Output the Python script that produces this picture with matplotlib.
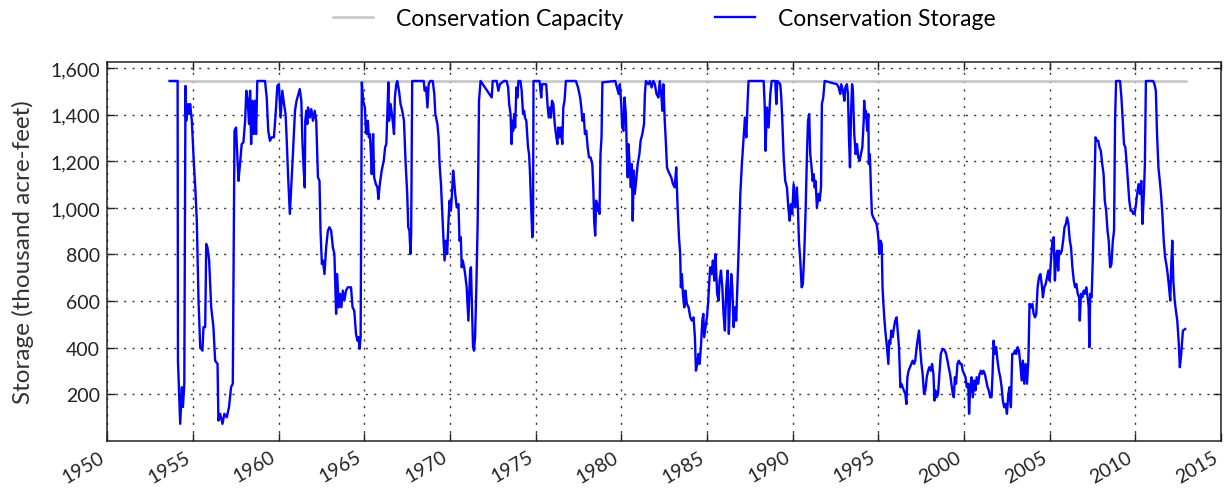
import matplotlib
matplotlib.use("Agg")
import matplotlib.pyplot as plt
from matplotlib.ticker import FuncFormatter

plt.rcParams["font.family"] = ["Lato", "DejaVu Sans"]

CAPACITY = 1545
capacity_years = [1953.64, 2012.96]

# conservation storage (thousand acre-feet)
storage_years = [
    1953.64, 1954.11, 1954.13, 1954.26, 1954.36, 1954.42, 1954.50, 1954.57, 1954.61, 1954.71,
    1954.79, 1954.84, 1954.94, 1955.06, 1955.14, 1955.23, 1955.33, 1955.43, 1955.56, 1955.62,
    1955.72, 1955.78, 1955.85, 1955.95, 1956.07, 1956.20, 1956.30, 1956.44, 1956.49, 1956.59,
    1956.73, 1956.84, 1956.98, 1957.11, 1957.23, 1957.33, 1957.43, 1957.52, 1957.66, 1957.75,
    1957.85, 1957.95, 1958.05, 1958.12, 1958.20, 1958.28, 1958.34, 1958.40, 1958.47, 1958.55,
    1958.63, 1958.69, 1958.76, 1959.21, 1959.31, 1959.40, 1959.50, 1959.60, 1959.73, 1959.83,
    1959.93, 1960.02, 1960.12, 1960.22, 1960.32, 1960.41, 1960.47, 1960.57, 1960.66, 1960.72,
    1960.82, 1960.96, 1961.05,
    1961.24, 1961.33, 1961.39, 1961.47, 1961.53, 1961.56, 1961.62, 1961.68, 1961.72, 1961.82,
    1961.91, 1962.01, 1962.11, 1962.20, 1962.30, 1962.39, 1962.45, 1962.53, 1962.59, 1962.68,
    1962.78, 1962.88, 1962.97, 1963.07, 1963.17, 1963.26, 1963.36, 1963.42, 1963.51, 1963.59,
    1963.67, 1963.75, 1963.84, 1963.94, 1964.04, 1964.23, 1964.32, 1964.42, 1964.52, 1964.61,
    1964.67, 1964.73, 1964.79, 1964.86, 1964.94, 1965.04, 1965.10, 1965.15, 1965.21, 1965.27,
    1965.33, 1965.39, 1965.44, 1965.52, 1965.58, 1965.68, 1965.77, 1965.83, 1965.91, 1966.02,
    1966.14, 1966.22, 1966.29, 1966.35, 1966.41, 1966.45, 1966.54, 1966.64, 1966.74, 1966.79,
    1966.87, 1966.93, 1967.03, 1967.12, 1967.22, 1967.32, 1967.41, 1967.51, 1967.57, 1967.64,
    1967.70, 1967.74, 1967.80, 1968.47, 1968.53, 1968.61, 1968.69, 1968.76, 1968.86, 1969.00,
    1969.09, 1969.15, 1969.27, 1969.34, 1969.40, 1969.48, 1969.54, 1969.63, 1969.69, 1969.77,
    1969.84, 1969.92, 1969.98, 1970.06, 1970.11, 1970.19, 1970.25, 1970.31, 1970.40, 1970.50,
    1970.56, 1970.64, 1970.69, 1970.75, 1970.83, 1970.89, 1970.98, 1971.08, 1971.18, 1971.23,
    1971.27, 1971.35, 1971.41, 1971.47, 1971.54, 1971.62, 1971.70, 1971.79,
    1972.44, 1972.50, 1972.73, 1972.83, 1972.92, 1973.15, 1973.31, 1973.40, 1973.46, 1973.54,
    1973.60, 1973.65, 1973.69, 1973.75, 1973.81, 1973.88, 1973.94, 1974.00, 1974.12, 1974.19,
    1974.27, 1974.33, 1974.38, 1974.46, 1974.56, 1974.62, 1974.67, 1974.75, 1974.81, 1974.85,
    1974.88, 1975.23, 1975.33, 1975.38, 1975.62, 1975.71, 1975.77, 1975.85, 1975.90, 1975.96,
    1976.04, 1976.12, 1976.19, 1976.27, 1976.33, 1976.40, 1976.48, 1976.56, 1976.62, 1976.69,
    1976.77, 1977.35, 1977.48, 1977.60, 1977.67, 1977.73, 1977.81, 1977.88, 1977.96, 1978.04,
    1978.12, 1978.21, 1978.31, 1978.37, 1978.42, 1978.48, 1978.54, 1978.60, 1978.65, 1978.73,
    1978.79, 1978.85, 1978.90, 1979.65, 1979.75, 1979.85, 1979.92, 1980.00, 1980.06, 1980.13,
    1980.19, 1980.27, 1980.33, 1980.38, 1980.42, 1980.48, 1980.56, 1980.62, 1980.67, 1980.73,
    1980.79, 1980.87, 1980.96, 1981.06, 1981.13, 1981.23, 1981.33, 1981.38, 1981.44, 1981.58,
    1981.67, 1981.77, 1981.87, 1981.96, 1982.06, 1982.17, 1982.25, 1982.35, 1982.40, 1982.46,
    1982.54, 1982.60, 1982.67, 1982.73, 1982.83, 1982.92, 1983.02, 1983.12, 1983.21,
    1983.29, 1983.37, 1983.44, 1983.48, 1983.54, 1983.60, 1983.68, 1983.74, 1983.83, 1983.93,
    1984.03, 1984.12, 1984.22, 1984.30, 1984.36, 1984.44, 1984.51, 1984.57, 1984.65, 1984.73,
    1984.79, 1984.84, 1984.92, 1985.00, 1985.08, 1985.14, 1985.19, 1985.27, 1985.35, 1985.43,
    1985.49, 1985.54, 1985.60, 1985.68, 1985.74, 1985.82, 1985.90, 1985.97, 1986.05, 1986.13,
    1986.21, 1986.28, 1986.36, 1986.42, 1986.48, 1986.56, 1986.63, 1986.71, 1986.79, 1986.87,
    1986.95, 1987.04, 1987.14, 1987.22, 1987.30, 1987.37, 1987.43, 1988.31, 1988.37, 1988.42,
    1988.50, 1988.60, 1988.70, 1988.78, 1988.99, 1989.05, 1989.11, 1989.28, 1989.34, 1989.40,
    1989.48, 1989.57, 1989.67, 1989.75, 1989.83, 1989.90, 1989.98, 1990.06, 1990.16, 1990.25,
    1990.31, 1990.37, 1990.45, 1990.53, 1990.60, 1990.68, 1990.76, 1990.84, 1990.90, 1990.97,
    1991.03, 1991.09, 1991.17, 1991.23, 1991.29, 1991.34, 1991.42, 1991.52, 1991.58, 1991.66,
    1991.71, 1991.79, 1991.87, 1992.59, 1992.69, 1992.78, 1992.84, 1992.94, 1993.02, 1993.08,
    1993.17, 1993.23, 1993.29, 1993.35, 1993.41, 1993.47, 1993.52, 1993.60, 1993.68, 1993.76,
    1993.83, 1993.91, 1993.99, 1994.07, 1994.15,
    1994.18, 1994.22, 1994.28, 1994.36, 1994.42, 1994.45, 1994.51, 1994.57, 1994.63, 1994.71,
    1994.81, 1994.90, 1994.96, 1995.02, 1995.06, 1995.14, 1995.20, 1995.25, 1995.29, 1995.35,
    1995.41, 1995.49, 1995.59, 1995.64, 1995.70, 1995.76, 1995.84, 1995.92, 1995.99, 1996.07,
    1996.13, 1996.21, 1996.29, 1996.35, 1996.42, 1996.50, 1996.58, 1996.64, 1996.70, 1996.77,
    1996.85, 1996.93, 1997.01, 1997.09, 1997.16, 1997.24, 1997.32, 1997.38, 1997.44, 1997.52,
    1997.59, 1997.67, 1997.75, 1997.83, 1997.91, 1997.98, 1998.06, 1998.14, 1998.22, 1998.28,
    1998.33, 1998.41, 1998.49, 1998.57, 1998.65, 1998.72, 1998.80, 1998.88, 1998.96, 1999.04,
    1999.11, 1999.19, 1999.27, 1999.35, 1999.41, 1999.47, 1999.54, 1999.62, 1999.70, 1999.78,
    1999.86, 1999.93, 2000.01, 2000.09, 2000.17, 2000.25, 2000.30, 2000.36, 2000.44, 2000.52,
    2000.60, 2000.67, 2000.75, 2000.83, 2000.91, 2000.99, 2001.06, 2001.14, 2001.22, 2001.30,
    2001.38, 2001.45, 2001.53, 2001.61, 2001.67, 2001.73, 2001.81, 2001.88, 2001.96, 2002.04,
    2002.12, 2002.20, 2002.27, 2002.35, 2002.43, 2002.51, 2002.59, 2002.66, 2002.74, 2002.82,
    2002.90, 2002.98, 2003.05, 2003.13, 2003.21, 2003.29, 2003.37, 2003.44, 2003.52, 2003.60,
    2003.68, 2003.76, 2003.83, 2003.91, 2003.99, 2004.07, 2004.15, 2004.22, 2004.30, 2004.38,
    2004.46, 2004.54, 2004.61, 2004.69, 2004.77, 2004.85, 2004.93, 2005.00, 2005.08, 2005.16,
    2005.24,
    2005.31, 2005.37, 2005.44, 2005.50, 2005.56, 2005.64, 2005.71, 2005.79, 2005.87, 2005.95,
    2006.02, 2006.10, 2006.18, 2006.25, 2006.33, 2006.41, 2006.49, 2006.56, 2006.64, 2006.72,
    2006.76, 2006.83, 2006.91, 2006.99, 2007.07, 2007.14, 2007.22, 2007.28, 2007.32, 2007.37,
    2007.45, 2007.53, 2007.61, 2007.68, 2007.76, 2007.84, 2007.91, 2007.99, 2008.07, 2008.15,
    2008.22, 2008.30, 2008.38, 2008.45, 2008.53, 2008.61, 2008.69, 2008.76, 2008.82, 2008.88,
    2009.11, 2009.19, 2009.27, 2009.34, 2009.42, 2009.50, 2009.57, 2009.65, 2009.73, 2009.81,
    2009.88, 2009.96, 2010.04, 2010.11, 2010.19, 2010.27, 2010.35, 2010.42, 2010.50, 2010.56,
    2010.62, 2011.04, 2011.12, 2011.20, 2011.27, 2011.35, 2011.43, 2011.50, 2011.58, 2011.66,
    2011.74, 2011.81, 2011.89, 2011.97, 2012.04, 2012.10, 2012.16, 2012.22, 2012.30, 2012.37,
    2012.45, 2012.53, 2012.60, 2012.68, 2012.78, 2012.91,
]

storage_kaf = [
    1545, 1545, 344, 73, 230, 145, 245, 1524, 1374, 1446,
    1403, 1446, 1374, 1188, 1088, 945, 602, 402, 387, 488,
    488, 845, 831, 774, 573, 488, 344, 330, 87, 116,
    73, 116, 101, 145, 230, 245, 1331, 1345, 1116, 1188,
    1274, 1281, 1374, 1503, 1460, 1360, 1503, 1274, 1460, 1317,
    1460, 1317, 1545, 1545, 1474, 1331, 1288, 1303, 1303, 1403,
    1524, 1531, 1388, 1503, 1446, 1403, 1303, 1116, 974, 1060,
    1202, 1417, 1460,
    1510, 1460, 1288, 1160, 1088, 1374, 1417, 1360, 1431, 1388,
    1424, 1374, 1417, 1374, 1131, 1117, 902, 759, 774, 716,
    831, 902, 917, 902, 831, 802, 545, 716, 573, 631,
    573, 645, 602, 645, 659, 659, 573, 559, 459, 430,
    445, 395, 445, 1539, 1460, 1431, 1331, 1317, 1374, 1303,
    1317, 1231, 1145, 1317, 1131, 1102, 1088, 1038, 1102, 1160,
    1202, 1260, 1274, 1403, 1539, 1374, 1446, 1388, 1317, 1474,
    1531, 1545, 1503, 1446, 1417, 1374, 1202, 1060, 917, 902,
    802, 888, 1545, 1545, 1503, 1517, 1431, 1531, 1545, 1545,
    1489, 1403, 1360, 1303, 1188, 1102, 1002, 859, 774, 859,
    802, 945, 1031, 988, 1045, 1160, 1116, 1060, 1002, 1016,
    859, 874, 745, 774, 745, 716, 659, 516, 731, 745,
    631, 402, 387, 445, 645, 931, 1460, 1545,
    1474, 1545, 1545, 1503, 1531, 1545, 1545, 1517, 1446, 1403,
    1274, 1374, 1331, 1403, 1345, 1517, 1474, 1545, 1545, 1503,
    1403, 1417, 1388, 1374, 1260, 1231, 1160, 988, 874, 902,
    1545, 1545, 1474, 1531, 1531, 1431, 1388, 1431, 1388, 1460,
    1446, 1360, 1317, 1274, 1345, 1303, 1345, 1274, 1431, 1460,
    1545, 1545, 1517, 1474, 1431, 1374, 1403, 1317, 1331, 1260,
    1217, 1217, 1188, 1088, 945, 881, 1031, 988, 1016, 974,
    1231, 1303, 1539, 1545, 1517, 1489, 1531, 1446, 1345, 1331,
    1474, 1403, 1231, 1131, 1274, 1202, 1088, 1188, 945, 1160,
    1060, 1116, 1188, 1231, 1288, 1317, 1360, 1489, 1545, 1531,
    1545, 1517, 1545, 1531, 1489, 1474, 1545, 1474, 1417, 1531,
    1374, 1288, 1174, 1160, 1145, 1131, 1102, 1088, 1174,
    1002, 874, 802, 659, 716, 631, 573, 645, 588, 573,
    530, 516, 530, 445, 301, 330, 373, 330, 402, 516,
    545, 445, 488, 530, 602, 688, 745, 716, 774, 688,
    802, 731, 631, 602, 688, 731, 659, 545, 473, 659,
    731, 459, 631, 716, 659, 488, 573, 516, 688, 859,
    1060, 1188, 1303, 1388, 1303, 1446, 1545, 1545, 1446, 1245,
    1431, 1345, 1489, 1545, 1545, 1446, 1545, 1531, 1474, 1374,
    1217, 1116, 1088, 1002, 945, 1016, 974, 1102, 1002, 1088,
    1002, 859, 774, 659, 673, 802, 988, 1231, 1374, 1403,
    1231, 1188, 1116, 1145, 1088, 1116, 1002, 1060, 1031, 1088,
    1446, 1474, 1545, 1531, 1517, 1489, 1531, 1503, 1460, 1517,
    1531, 1489, 1303, 1174, 1403, 1531, 1503, 1317, 1231, 1274,
    1217, 1202, 1231, 1260, 1374,
    1460, 1388, 1417, 1331, 1403, 1188, 1231, 1088, 974, 959,
    945, 931, 902, 859, 802, 859, 845, 659, 602, 530,
    473, 416, 330, 430, 416, 473, 445, 488, 516, 530,
    473, 402, 230, 245, 230, 216, 201, 158, 273, 301,
    316, 330, 344, 330, 344, 402, 445, 473, 402, 330,
    287, 201, 216, 273, 301, 316, 301, 330, 287, 173,
    216, 187, 201, 287, 373, 388, 395, 388, 373, 344,
    316, 287, 245, 201, 187, 273, 245, 330, 344, 330,
    330, 301, 287, 273, 230, 245, 116, 216, 273, 187,
    259, 216, 273, 245, 287, 301, 287, 301, 287, 259,
    230, 216, 187, 187, 287, 430, 373, 402, 344, 301,
    273, 230, 173, 144, 158, 116, 201, 230, 144, 373,
    373, 388, 373, 402, 388, 330, 259, 344, 245, 330,
    245, 344, 588, 573, 588, 545, 530, 545, 659, 702,
    716, 673, 616, 659, 673, 702, 731, 688, 774, 859,
    874,
    688, 788, 816, 731, 816, 802, 816, 859, 917, 931,
    959, 931, 859, 831, 745, 688, 659, 673, 631, 616,
    516, 631, 616, 645, 631, 659, 616, 573, 402, 631,
    616, 802, 1060, 1303, 1288, 1288, 1260, 1245, 1188, 1145,
    1031, 988, 902, 859, 745, 759, 859, 902, 1374, 1545,
    1545, 1474, 1374, 1274, 1260, 1188, 1116, 1031, 988, 988,
    974, 974, 1016, 1060, 1102, 1060, 1116, 931, 1060, 1188,
    1545, 1545, 1531, 1503, 1317, 1174, 1116, 1060, 974, 859,
    788, 759, 716, 659, 602, 759, 859, 688, 602, 559,
    516, 430, 316, 373, 473, 480,
]

x_ticks = list(range(1950, 2016, 5))
y_ticks = list(range(200, 1601, 200))

fig = plt.figure(figsize=(12.25, 4.89), dpi=100)
ax = fig.add_axes([0.0875, 0.0965, 0.9092, 0.774])

ax.plot(capacity_years, [CAPACITY, CAPACITY], color="#c4c4c4", lw=1.8,
        label="Conservation Capacity", zorder=2)
ax.plot(storage_years, storage_kaf, color="#0000ff", lw=1.7,
        label="Conservation Storage", zorder=3)

ax.set_xlim(1950, 2015)
ax.set_ylim(0, 1625)
ax.set_xticks(x_ticks)
ax.set_yticks(y_ticks)
ax.yaxis.set_major_formatter(FuncFormatter(lambda v, p: f"{int(v):,}"))
ax.set_xticklabels([str(t) for t in x_ticks], rotation=30, ha="right")

ax.tick_params(direction="in", top=True, right=True, length=6, width=1,
               labelsize=14, colors="#222222", pad=5)
ax.tick_params(axis="x", pad=5)
for s in ax.spines.values():
    s.set_linewidth(1.1)
    s.set_color("#222222")

ax.grid(True, linestyle=(0, (1.5, 4.5)), color="#333333", linewidth=1.0)
ax.set_axisbelow(True)

ax.set_ylabel("Storage (thousand acre-feet)", fontsize=17.5, color="#333333", labelpad=12)

ax.legend(loc="center", bbox_to_anchor=(0.5, 1.115), ncol=2, frameon=False,
          fontsize=16.5, handlelength=1.75, handletextpad=1.0, columnspacing=4.0)

fig.savefig("out.png", dpi=100)
